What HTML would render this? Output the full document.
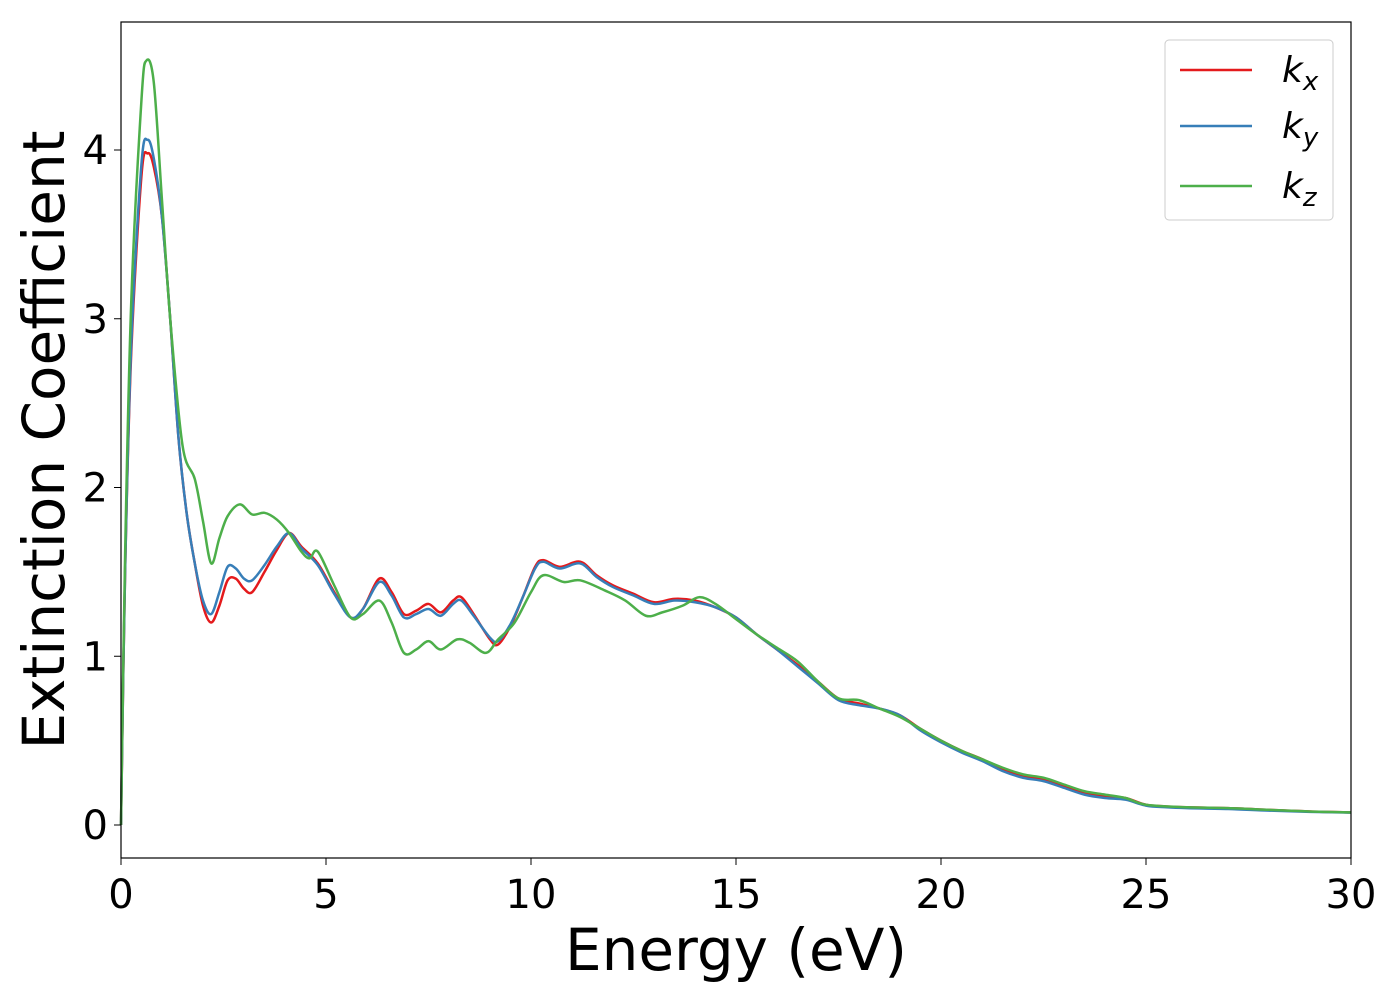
<!DOCTYPE html>
<html><head><meta charset="utf-8"><style>
body{margin:0;background:#fff}
svg text{font-family:"DejaVu Sans","Liberation Sans",sans-serif}
</style></head><body>
<svg id="chart" width="1400" height="1000" xmlns="http://www.w3.org/2000/svg">
<rect width="1400" height="1000" fill="#fff"/>
<g id="plot"></g>
<rect x="121" y="22" width="1230" height="836" fill="none" stroke="#000" stroke-width="1.2"/>
<g id="xt"></g><g id="yt"></g>
<text x="736" y="970" font-size="58" text-anchor="middle">Energy (eV)</text>
<text transform="translate(64,440) rotate(-90)" font-size="58" text-anchor="middle">Extinction Coefficient</text>
<g>
<rect x="1165" y="40" width="168" height="180" rx="4" fill="#fff" stroke="#ccc"/>
<line x1="1180" x2="1252" y1="70" y2="70" stroke="#e41a1c" stroke-width="2.5"/>
<line x1="1180" x2="1252" y1="126" y2="126" stroke="#377eb8" stroke-width="2.5"/>
<line x1="1180" x2="1252" y1="186" y2="186" stroke="#4daf4a" stroke-width="2.5"/>
<text x="1282" y="82" font-size="36" font-style="italic">k<tspan font-size="26" dy="8">x</tspan></text>
<text x="1282" y="138" font-size="36" font-style="italic">k<tspan font-size="26" dy="8">y</tspan></text>
<text x="1282" y="198" font-size="36" font-style="italic">k<tspan font-size="26" dy="8">z</tspan></text>
</g>
</svg>
<script>
const xTicks=[0,5,10,15,20,25,30];
const yTicks=[0,1,2,3,4];
const energyX=[0,0.1,0.25,0.5,0.65,0.8,1.0,1.2,1.4,1.6,1.8,2.0,2.2,2.4,2.6,2.8,3.0,3.2,3.5,3.8,4.1,4.4,4.8,5.2,5.6,5.9,6.3,6.6,6.9,7.2,7.5,7.8,8.1,8.3,8.6,9.0,9.2,9.5,9.8,10.1,10.3,10.7,11.2,11.6,12.0,12.5,13.0,13.5,14,14.5,15,15.5,16,16.5,17,17.5,18,18.5,19,19.5,20,20.5,21,21.5,22,22.5,23,23.5,24,24.5,25,25.5,26,27,28,29,30];
const kx=[0,1.5,2.8,3.85,3.98,3.9,3.6,3.0,2.3,1.85,1.55,1.3,1.2,1.3,1.45,1.46,1.4,1.38,1.5,1.63,1.73,1.65,1.55,1.38,1.23,1.28,1.46,1.38,1.25,1.27,1.31,1.26,1.33,1.35,1.25,1.1,1.07,1.18,1.35,1.53,1.57,1.53,1.56,1.48,1.42,1.37,1.32,1.34,1.33,1.29,1.23,1.13,1.04,0.95,0.85,0.75,0.72,0.69,0.65,0.57,0.5,0.44,0.39,0.33,0.29,0.27,0.23,0.19,0.17,0.16,0.12,0.11,0.105,0.1,0.09,0.08,0.075];
const ky=[0,1.5,2.85,3.92,4.06,3.95,3.6,3.0,2.3,1.85,1.55,1.33,1.25,1.38,1.53,1.52,1.46,1.45,1.54,1.65,1.73,1.64,1.54,1.37,1.23,1.28,1.44,1.36,1.23,1.25,1.28,1.24,1.31,1.33,1.24,1.11,1.09,1.19,1.35,1.52,1.56,1.52,1.55,1.47,1.41,1.36,1.31,1.33,1.32,1.29,1.23,1.13,1.04,0.94,0.84,0.74,0.71,0.69,0.65,0.56,0.49,0.43,0.38,0.32,0.28,0.26,0.22,0.18,0.16,0.15,0.115,0.105,0.1,0.095,0.085,0.078,0.073];
const energyZ=[0,0.1,0.25,0.5,0.62,0.8,1.0,1.2,1.5,1.8,2.0,2.2,2.4,2.6,2.9,3.2,3.5,3.8,4.1,4.4,4.6,4.8,5.2,5.6,5.9,6.3,6.6,6.9,7.2,7.5,7.8,8.2,8.5,8.9,9.2,9.6,10.0,10.3,10.8,11.2,11.8,12.3,12.8,13.2,13.7,14.1,14.5,15,15.5,16,16.5,17,17.5,18,18.5,19,19.5,20,20.5,21,21.5,22,22.5,23,23.5,24,24.5,25,26,27,28,29,30];
const kz=[0,1.6,3.1,4.3,4.53,4.4,3.7,3.0,2.25,2.05,1.8,1.55,1.7,1.83,1.9,1.84,1.85,1.81,1.73,1.62,1.58,1.62,1.42,1.23,1.25,1.33,1.2,1.02,1.04,1.09,1.04,1.1,1.08,1.02,1.1,1.2,1.38,1.48,1.44,1.45,1.39,1.33,1.24,1.26,1.3,1.35,1.31,1.22,1.13,1.05,0.97,0.85,0.75,0.74,0.69,0.64,0.57,0.5,0.44,0.39,0.34,0.3,0.28,0.24,0.2,0.18,0.16,0.12,0.105,0.1,0.09,0.08,0.075];
const X=v=>121+v*41, Y=v=>825-v*168.75;
const NS="http://www.w3.org/2000/svg";
function path(xs,ys){
  const p=xs.map((x,i)=>[X(x),Y(ys[i])]);
  let d=`M${p[0][0]},${p[0][1]}`;
  for(let i=0;i<p.length-1;i++){
    const p0=p[Math.max(0,i-1)],p1=p[i],p2=p[i+1],p3=p[Math.min(p.length-1,i+2)];
    const c1=[p1[0]+(p2[0]-p0[0])/6,p1[1]+(p2[1]-p0[1])/6];
    const c2=[p2[0]-(p3[0]-p1[0])/6,p2[1]-(p3[1]-p1[1])/6];
    d+=`C${c1[0]},${c1[1]} ${c2[0]},${c2[1]} ${p2[0]},${p2[1]}`;
  }
  return d;
}
const plot=document.getElementById('plot');
[[energyX,kx,'#e41a1c','line-kx'],[energyX,ky,'#377eb8','line-ky'],[energyZ,kz,'#4daf4a','line-kz']].forEach(s=>{
  const el=document.createElementNS(NS,'path');
  el.setAttribute('d',path(s[0],s[1]));
  el.setAttribute('fill','none');el.setAttribute('stroke',s[2]);el.setAttribute('stroke-width','2.5');
  
  
  plot.appendChild(el);
});
const xt=document.getElementById('xt');
xTicks.forEach(t=>{
  const l=document.createElementNS(NS,'line');
  l.setAttribute('x1',X(t));l.setAttribute('x2',X(t));l.setAttribute('y1',858);l.setAttribute('y2',865);l.setAttribute('stroke','#000');
  
  
  xt.appendChild(l);
  const tx=document.createElementNS(NS,'text');
  tx.setAttribute('x',X(t));tx.setAttribute('y',908);tx.setAttribute('font-size','40');tx.setAttribute('text-anchor','middle');
  tx.textContent=t;
  
  
  xt.appendChild(tx);
});
const yt=document.getElementById('yt');
yTicks.forEach(t=>{
  const l=document.createElementNS(NS,'line');
  l.setAttribute('x1',114);l.setAttribute('x2',121);l.setAttribute('y1',Y(t));l.setAttribute('y2',Y(t));l.setAttribute('stroke','#000');
  
  
  yt.appendChild(l);
  const tx=document.createElementNS(NS,'text');
  tx.setAttribute('x',108);tx.setAttribute('y',Y(t)+14);tx.setAttribute('font-size','40');tx.setAttribute('text-anchor','end');
  tx.textContent=t;
  
  
  yt.appendChild(tx);
});
</script>
</body></html>
